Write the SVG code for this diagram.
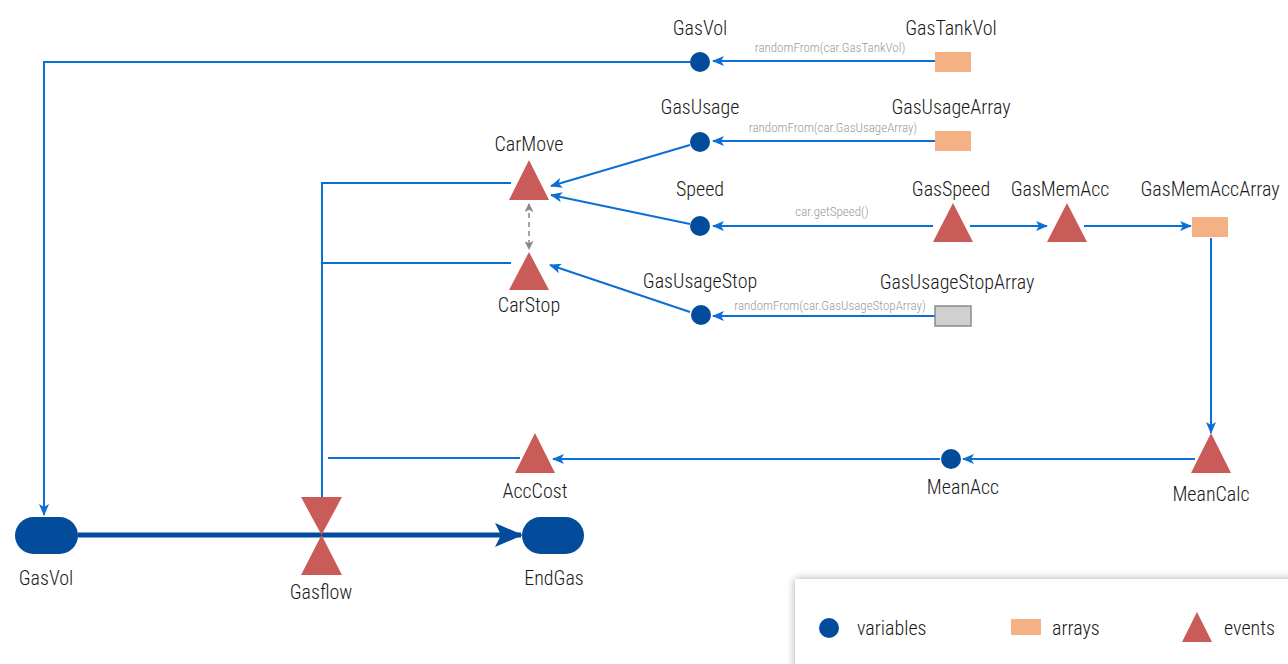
<svg xmlns="http://www.w3.org/2000/svg" width="1288" height="664" viewBox="0 0 1288 664">
<style>
text{font-family:"Liberation Sans Narrow","Roboto Condensed","DejaVu Sans Condensed","Liberation Sans",sans-serif;font-stretch:condensed;font-weight:300;fill:#1a1a1a}
.lbl{font-size:20px;text-anchor:middle}
.sm{font-size:13px;fill:#999;text-anchor:middle}
.lg{font-size:20px}
.ln{stroke:#0b6fd6;stroke-width:2;fill:none}
.var{fill:#034c9c}
.arr{fill:#f4b183}
.ev{fill:#c95c58}
</style>
<defs>
<marker id="ah" viewBox="0 0 12 10" refX="11" refY="5" markerWidth="12" markerHeight="10" markerUnits="userSpaceOnUse" orient="auto">
<path d="M0,0 L12,5 L0,10 L3,5 z" fill="#0b6fd6"/>
</marker>
<marker id="ahg" viewBox="0 0 10 10" refX="9" refY="5" markerWidth="9" markerHeight="9" markerUnits="userSpaceOnUse" orient="auto-start-reverse">
<path d="M0,0 L10,5 L0,10 L2.5,5 z" fill="#888"/>
</marker>
<marker id="ahf" viewBox="0 0 14 12" refX="13" refY="6" markerWidth="28" markerHeight="24" markerUnits="userSpaceOnUse" orient="auto">
<path d="M0,0 L14,6 L0,12 L3,6 z" fill="#034c9c"/>
</marker>
<filter id="sh" x="-5%" y="-30%" width="110%" height="160%">
<feGaussianBlur in="SourceAlpha" stdDeviation="4"/>
<feOffset dx="0" dy="0"/>
<feComponentTransfer><feFuncA type="linear" slope="0.35"/></feComponentTransfer>
<feMerge><feMergeNode/><feMergeNode in="SourceGraphic"/></feMerge>
</filter>
</defs>

<g id="connectors">
<line class="ln" x1="935" y1="61" x2="713" y2="61" marker-end="url(#ah)"/>
<polyline class="ln" points="690,62 44,62 44,515" marker-end="url(#ah)"/>
<line class="ln" x1="935" y1="141" x2="713" y2="141" marker-end="url(#ah)"/>
<line class="ln" x1="690" y1="145" x2="551" y2="186" marker-end="url(#ah)"/>
<line class="ln" x1="933" y1="226" x2="713" y2="226" marker-end="url(#ah)"/>
<line class="ln" x1="690" y1="224" x2="551" y2="195" marker-end="url(#ah)"/>
<line class="ln" x1="970" y1="226" x2="1047" y2="226" marker-end="url(#ah)"/>
<line class="ln" x1="1084" y1="226" x2="1191" y2="226" marker-end="url(#ah)"/>
<line class="ln" x1="1211" y1="238" x2="1211" y2="433" marker-end="url(#ah)"/>
<line class="ln" x1="1195" y1="459" x2="963" y2="459" marker-end="url(#ah)"/>
<line class="ln" x1="940" y1="459" x2="553" y2="459" marker-end="url(#ah)"/>
<line class="ln" x1="935" y1="316" x2="713" y2="316" marker-end="url(#ah)"/>
<line class="ln" x1="690" y1="312" x2="550" y2="265" marker-end="url(#ah)"/>
<polyline class="ln" points="322,497 322,183 511,183"/>
<line class="ln" x1="322" y1="263" x2="511" y2="263"/>
<line class="ln" x1="328" y1="458" x2="520" y2="458"/>
<line x1="529" y1="204" x2="529" y2="249" stroke="#888" stroke-width="1.5" stroke-dasharray="5,4" marker-start="url(#ahg)" marker-end="url(#ahg)"/>
<line x1="78" y1="535" x2="521" y2="535" stroke="#034c9c" stroke-width="5" marker-end="url(#ahf)"/>
<text class="sm" x="830" y="52">randomFrom(car.GasTankVol)</text>
<text class="sm" x="833" y="132">randomFrom(car.GasUsageArray)</text>
<text class="sm" x="832" y="216">car.getSpeed()</text>
<text class="sm" x="830" y="310">randomFrom(car.GasUsageStopArray)</text>
</g>

<g id="GasVolVar"><circle class="var" cx="700" cy="62" r="10"/><text class="lbl" x="700" y="35">GasVol</text></g>
<g id="GasTankVol"><rect class="arr" x="935" y="52" width="36" height="20"/><text class="lbl" x="951" y="35">GasTankVol</text></g>
<g id="GasUsage"><circle class="var" cx="700" cy="142" r="10"/><text class="lbl" x="700" y="114">GasUsage</text></g>
<g id="GasUsageArray"><rect class="arr" x="935" y="131" width="36" height="20"/><text class="lbl" x="951" y="114">GasUsageArray</text></g>
<g id="CarMove"><polygon class="ev" points="529,160 509,200 549,200"/><text class="lbl" x="529" y="151">CarMove</text></g>
<g id="Speed"><circle class="var" cx="700" cy="226" r="10"/><text class="lbl" x="700" y="196">Speed</text></g>
<g id="GasSpeed"><polygon class="ev" points="953,203 933,242 973,242"/><text class="lbl" x="951" y="196">GasSpeed</text></g>
<g id="GasMemAcc"><polygon class="ev" points="1067,203 1047,242 1087,242"/><text class="lbl" x="1060" y="196">GasMemAcc</text></g>
<g id="GasMemAccArray"><rect class="arr" x="1192" y="217" width="36" height="20"/><text class="lbl" x="1210" y="196">GasMemAccArray</text></g>
<g id="CarStop"><polygon class="ev" points="529,252 509,290 549,290"/><text class="lbl" x="529" y="312">CarStop</text></g>
<g id="GasUsageStop"><circle class="var" cx="701" cy="315" r="10"/><text class="lbl" x="700" y="288">GasUsageStop</text></g>
<g id="GasUsageStopArray"><rect x="935" y="306" width="36" height="20" fill="#d0d0d0" stroke="#8a8a8a" stroke-width="1.5"/><text class="lbl" x="957" y="289">GasUsageStopArray</text></g>
<g id="MeanCalc"><polygon class="ev" points="1211,433 1191,473 1231,473"/><text class="lbl" x="1211" y="501">MeanCalc</text></g>
<g id="MeanAcc"><circle class="var" cx="951" cy="459" r="10"/><text class="lbl" x="963" y="494">MeanAcc</text></g>
<g id="AccCost"><polygon class="ev" points="535,433 515,473 555,473"/><text class="lbl" x="535" y="498">AccCost</text></g>
<g id="GasVolStock"><rect x="15" y="517" width="63" height="37" rx="18.5" fill="#034c9c"/><text class="lbl" x="46" y="585">GasVol</text></g>
<g id="EndGas"><rect x="522" y="517" width="62" height="37" rx="18.5" fill="#034c9c"/><text class="lbl" x="554" y="585">EndGas</text></g>
<g id="Gasflow"><polygon class="ev" points="301,497 342,497 321.5,535 342,575 301,575 321.5,535"/><text class="lbl" x="321" y="599">Gasflow</text></g>

<g id="legend">
<rect x="795" y="579" width="500" height="100" fill="#fff" filter="url(#sh)"/>
<circle class="var" cx="829" cy="628" r="10"/><text class="lg" x="857" y="635">variables</text>
<rect class="arr" x="1011" y="619" width="30" height="16"/><text class="lg" x="1052" y="635">arrays</text>
<polygon class="ev" points="1197,612 1182,642 1212,642"/><text class="lg" x="1224" y="635">events</text>
</g>
</svg>
